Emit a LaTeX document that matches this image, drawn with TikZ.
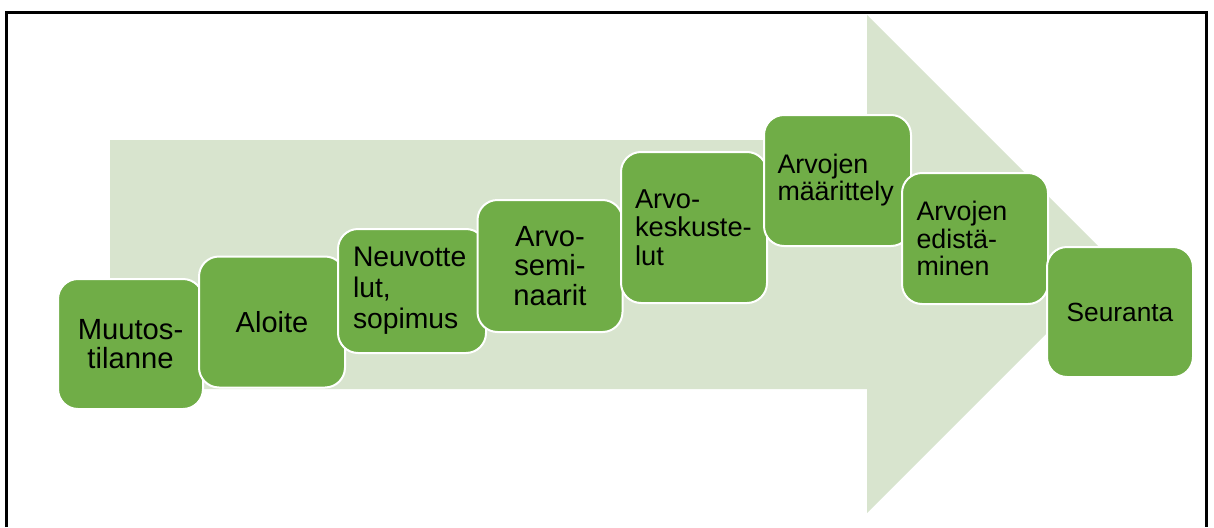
\documentclass[tikz,border=0pt]{standalone}
\usepackage{fontspec}
\setmainfont{Liberation Sans}
\definecolor{boxgreen}{HTML}{70AD47}
\definecolor{arrowgreen}{HTML}{D8E4CE}
\tikzset{
  stepbox/.style={rounded corners=20pt, fill=boxgreen, draw=white, line width=2pt,
    inner sep=0pt, text=black},
  ctrbox/.style={stepbox, align=center},
  leftbox/.style={stepbox, align=left},
  fs/.style 2 args={font=\fontsize{#1}{#2}\selectfont},
}
\begin{document}
\begin{tikzpicture}[x=1pt, y=-1pt]
  \useasboundingbox (0,0) rectangle (1214,527);
  % frame (bottom edge runs off the page)
  \coordinate (fbl) at (6.5,527);
  \coordinate (ftl) at (6.5,12.5);
  \coordinate (ftr) at (1206.5,12.5);
  \coordinate (fbr) at (1206.5,527);
  \draw[line width=2.3pt, line join=miter] (fbl) -- (ftl) -- (ftr) -- (fbr);
  % background arrow
  \fill[arrowgreen] (110,140) -- (867,140) -- (867,15) -- (1116,264)
    -- (867,513) -- (867,389) -- (110,389) -- cycle;
  % process steps
  \node[ctrbox, minimum width=145pt, minimum height=130pt, fs={29.2}{29}] (b1) at (130.5,344)
    {Muutos-\\tilanne};
  \node[ctrbox, minimum width=146pt, minimum height=131pt, fs={29}{29}] (b2) at (272,322)
    {Aloite};
  \node[leftbox, minimum width=148pt, minimum height=124pt, text width=118pt, fs={28.3}{31}] (b3) at (412,291)
    {Neuvotte\\lut,\\sopimus};
  \node[ctrbox, minimum width=145pt, minimum height=132pt, fs={29.2}{29.5}] (b4) at (550,266)
    {Arvo-\\semi-\\naarit};
  \node[leftbox, minimum width=146pt, minimum height=151pt, text width=118pt, fs={27.3}{28.5}] (b5) at (694,227.5)
    {Arvo-\\keskuste-\\lut};
  \node[leftbox, minimum width=147pt, minimum height=131pt, text width=120pt, fs={26.8}{27}] (b6) at (837.5,180.5)
    {Arvojen\\määrittely};
  \node[leftbox, minimum width=146pt, minimum height=131pt, text width=117pt, fs={26.8}{27.5}] (b7) at (975,238.5)
    {Arvojen\\edistä-\\minen};
  \node[ctrbox, minimum width=146pt, minimum height=130pt, fs={26.3}{28}] (b8) at (1120,312)
    {Seuranta};
\end{tikzpicture}
\end{document}
